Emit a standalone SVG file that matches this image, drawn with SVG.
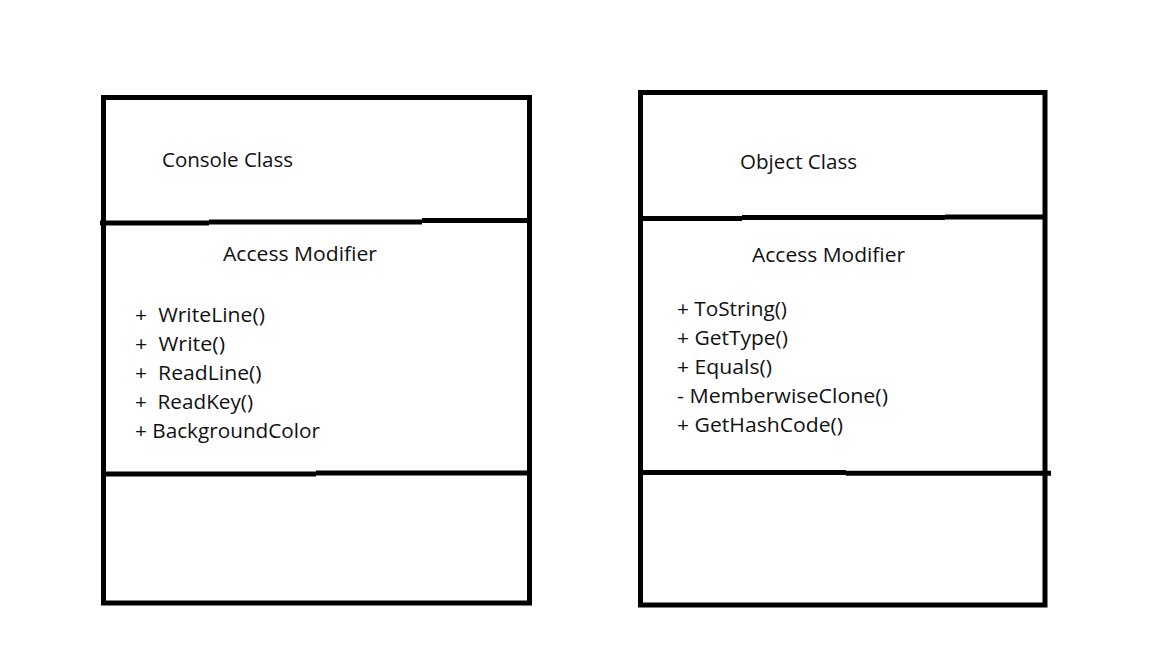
<svg xmlns="http://www.w3.org/2000/svg" width="1152" height="648" viewBox="0 0 1152 648">
  <style>
    .box { fill: none; stroke: #000; stroke-width: 5; }
    .div { fill: none; stroke: #000; stroke-width: 5; stroke-linecap: butt; }
    .t { font-family: "Open Sans", "Noto Sans", "Liberation Sans", sans-serif; font-size: 20px; fill: #111; white-space: pre; }
  </style>
  <rect width="1152" height="648" fill="#fff"/>
  <g id="console-class">
    <rect class="box" x="103.5" y="97.5" width="426" height="505.5"/>
    <path class="div" d="M100 223 H209 M209 222 H422 M422 220.5 H529.5"/>
    <path class="div" d="M103.5 474 H316 M316 473 H529.5"/>
    <text class="t" x="162" y="166.5" textLength="131" lengthAdjust="spacingAndGlyphs">Console Class</text>
    <text class="t" x="223" y="260.5" textLength="154" lengthAdjust="spacingAndGlyphs">Access Modifier</text>
    <text class="t" x="135" y="322" xml:space="preserve" textLength="130" lengthAdjust="spacingAndGlyphs">+  WriteLine()</text>
    <text class="t" x="135" y="351" xml:space="preserve" textLength="90" lengthAdjust="spacingAndGlyphs">+  Write()</text>
    <text class="t" x="135" y="380" xml:space="preserve" textLength="126.5" lengthAdjust="spacingAndGlyphs">+  ReadLine()</text>
    <text class="t" x="135" y="409" xml:space="preserve" textLength="118" lengthAdjust="spacingAndGlyphs">+  ReadKey()</text>
    <text class="t" x="135" y="437.5" textLength="185" lengthAdjust="spacingAndGlyphs">+ BackgroundColor</text>
  </g>
  <g id="object-class">
    <rect class="box" x="640.5" y="92.5" width="404.5" height="512.5"/>
    <path class="div" d="M638 218.5 H742 M742 217.5 H945 M945 217 H1045"/>
    <path class="div" d="M640.5 472.5 H846 M846 473.2 H1051"/>
    <text class="t" x="740" y="168.5" textLength="117" lengthAdjust="spacingAndGlyphs">Object Class</text>
    <text class="t" x="752" y="261.5" textLength="153" lengthAdjust="spacingAndGlyphs">Access Modifier</text>
    <text class="t" x="677" y="315.5" textLength="110" lengthAdjust="spacingAndGlyphs">+ ToString()</text>
    <text class="t" x="677" y="344.5" textLength="111" lengthAdjust="spacingAndGlyphs">+ GetType()</text>
    <text class="t" x="677" y="373.5" textLength="95" lengthAdjust="spacingAndGlyphs">+ Equals()</text>
    <text class="t" x="677" y="403" textLength="211" lengthAdjust="spacingAndGlyphs">- MemberwiseClone()</text>
    <text class="t" x="677" y="432" textLength="166" lengthAdjust="spacingAndGlyphs">+ GetHashCode()</text>
  </g>
  <g id="connectors"/>
</svg>
